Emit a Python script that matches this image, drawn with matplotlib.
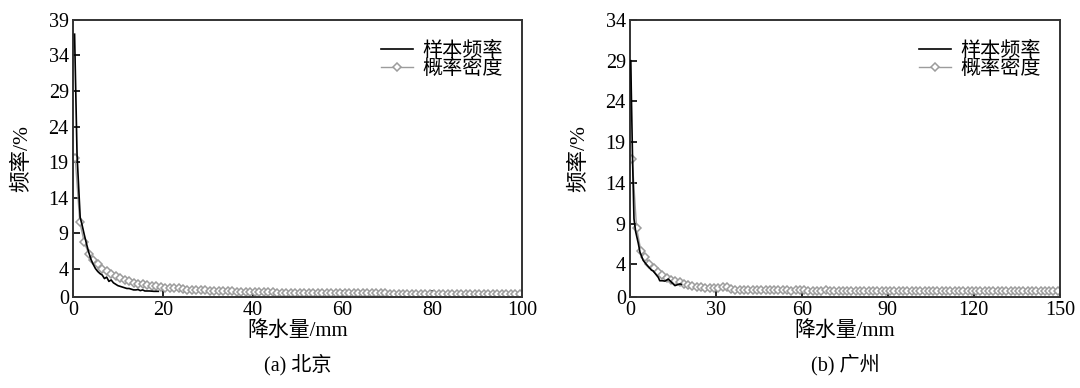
import matplotlib
matplotlib.use("Agg")
import matplotlib.pyplot as plt
import numpy as np
from matplotlib.ticker import FixedLocator

plt.rcParams["font.family"] = ["Liberation Serif", "Noto Sans CJK SC"]
plt.rcParams["axes.unicode_minus"] = False

# --- (a) 北京 ---
bj_sample_x = [0.35, 0.9, 1.6, 2.0, 2.5, 3.0, 3.5, 4.0, 4.5, 5.0, 5.5, 6.0, 6.5, 7.0,
               7.5, 8.0, 8.5, 9.0, 9.5, 10.0, 10.5, 11.0, 11.5, 12.0, 12.5, 13.0,
               13.5, 14.0, 14.5, 15.0, 15.5, 16.0, 17.0, 18.0, 19.0]
bj_sample_y = [37.0, 20.0, 11.2, 10.2, 8.8, 7.5, 6.3, 5.3, 4.6, 4.0, 3.6, 3.3, 3.1, 2.6,
               2.8, 2.2, 2.4, 2.0, 1.8, 1.6, 1.5, 1.4, 1.3, 1.2, 1.2, 1.1,
               1.0, 1.0, 1.05, 0.9, 1.0, 0.85, 0.85, 0.8, 0.8]
bj_density_y = [
    19.5, 10.6, 7.7, 6.1, 5.2, 4.6, 4.0, 3.6, 3.2, 2.9,
    2.7, 2.4, 2.2, 2.0, 1.9, 1.8, 1.7, 1.6, 1.5, 1.4,
    1.3, 1.25, 1.3, 1.2, 1.1, 1.05, 1.0, 1.0, 0.95, 0.92,
    0.9, 0.88, 0.85, 0.82, 0.8, 0.78, 0.75, 0.74, 0.72, 0.7,
    0.68, 0.67, 0.66, 0.65, 0.64, 0.63, 0.6, 0.62, 0.61, 0.6,
    0.58, 0.58, 0.57, 0.56, 0.56, 0.55, 0.55, 0.54, 0.54, 0.53,
    0.53, 0.52, 0.52, 0.52, 0.51, 0.51, 0.5, 0.5, 0.5, 0.5,
    0.49, 0.49, 0.49, 0.48, 0.48, 0.48, 0.48, 0.47, 0.47, 0.47,
    0.47, 0.47, 0.46, 0.46, 0.46, 0.46, 0.46, 0.45, 0.45, 0.45,
    0.45, 0.45, 0.45, 0.44, 0.44, 0.44, 0.44, 0.44, 0.44, 0.44,
]
bj_density_x = np.arange(len(bj_density_y)) + 0.5

# --- (b) 广州 ---
gz_sample_x = [0.3, 0.45, 0.9, 1.4, 2.0, 2.9, 3.5, 4.6, 5.5, 6.5, 7.5, 8.1, 9.0, 9.9,
               10.4, 11.3, 12.2, 13.4, 14.5, 15.7, 16.5, 17.4, 18.0]
gz_sample_y = [29.0, 25.5, 17.0, 9.6, 8.0, 6.6, 5.5, 4.5, 4.1, 3.7, 3.3, 3.2, 2.8, 2.4,
               2.0, 2.0, 1.95, 2.2, 1.8, 1.4, 1.5, 1.6, 1.55]
gz_density_y = [
    16.9, 8.5, 5.7, 4.9, 4.1, 3.5, 3.1, 2.7, 2.35, 2.1,
    1.95, 1.8, 1.65, 1.45, 1.35, 1.27, 1.2, 1.15, 1.12, 1.1,
    1.12, 1.18, 1.2, 1.0, 0.92, 0.9, 0.9, 0.88, 0.86, 0.82,
    0.8, 0.82, 0.85, 0.85, 0.83, 0.8, 0.8, 0.79, 0.8, 0.81,
    0.8, 0.79, 0.78, 0.78, 0.79, 0.8, 0.79, 0.78, 0.77, 0.78,
    0.78, 0.77, 0.77, 0.78, 0.77, 0.76, 0.77, 0.77, 0.76, 0.76,
    0.77, 0.76, 0.76, 0.75, 0.76, 0.76, 0.75, 0.75, 0.76, 0.75,
    0.75, 0.75, 0.74, 0.75, 0.75, 0.74, 0.74, 0.75, 0.74, 0.74,
    0.74, 0.73, 0.74, 0.74, 0.73, 0.73, 0.74, 0.73, 0.73, 0.73,
    0.73, 0.72, 0.73, 0.73, 0.72, 0.72, 0.72, 0.72, 0.72, 0.72,
]
gz_density_x = np.arange(len(gz_density_y)) * 1.5 + 0.8

panels = [
    dict(sx=bj_sample_x, sy=bj_sample_y, dx=bj_density_x, dy=bj_density_y,
         xmax=100, xticks=[0, 20, 40, 60, 80, 100],
         ymax=39, yticks=[0, 4, 9, 14, 19, 24, 29, 34, 39], caption="(a) 北京",
         rect=[0.0676, 0.2345, 0.4157, 0.714]),
    dict(sx=gz_sample_x, sy=gz_sample_y, dx=gz_density_x, dy=gz_density_y,
         xmax=150, xticks=[0, 30, 60, 90, 120, 150],
         ymax=34, yticks=[0, 4, 9, 14, 19, 24, 29, 34], caption="(b) 广州",
         rect=[0.5833, 0.2345, 0.398, 0.714]),
]

GRAY = "#9c9c9c"
FS = 14.5

fig = plt.figure(figsize=(10.8, 3.88), dpi=100)
for p in panels:
    ax = fig.add_axes(p["rect"])
    ax.plot(p["dx"], p["dy"], color=GRAY, linewidth=1.0, marker="D", markersize=3.6,
            markerfacecolor="white", markeredgecolor=GRAY, markeredgewidth=1.1,
            label="概率密度", zorder=2)
    ax.plot(p["sx"], p["sy"], color="black", linewidth=1.2, label="样本频率", zorder=3)
    ax.set_xlim(0, p["xmax"])
    ax.set_ylim(0, p["ymax"])
    ax.xaxis.set_major_locator(FixedLocator(p["xticks"]))
    ax.yaxis.set_major_locator(FixedLocator(p["yticks"]))
    ax.tick_params(direction="in", length=5, width=1.2, labelsize=FS, pad=3,
                   top=False, right=False)
    for s in ax.spines.values():
        s.set_linewidth(1.4)
        s.set_color("#333333")
    ax.set_xlabel("降水量/mm", fontsize=FS + 0.5, labelpad=1)
    ax.set_ylabel("频率/%", fontsize=FS + 1, labelpad=12)
    ax.text(0.5, -0.245, p["caption"], transform=ax.transAxes, ha="center",
            va="center", fontsize=FS)
    handles, labels = ax.get_legend_handles_labels()
    ax.legend(handles[::-1], labels[::-1], loc="upper right", frameon=False,
              fontsize=FS, handlelength=1.6, handletextpad=0.45, labelspacing=-0.05,
              bbox_to_anchor=(0.975, 0.95), borderaxespad=0.0)

fig.savefig("out.png", dpi=100)
